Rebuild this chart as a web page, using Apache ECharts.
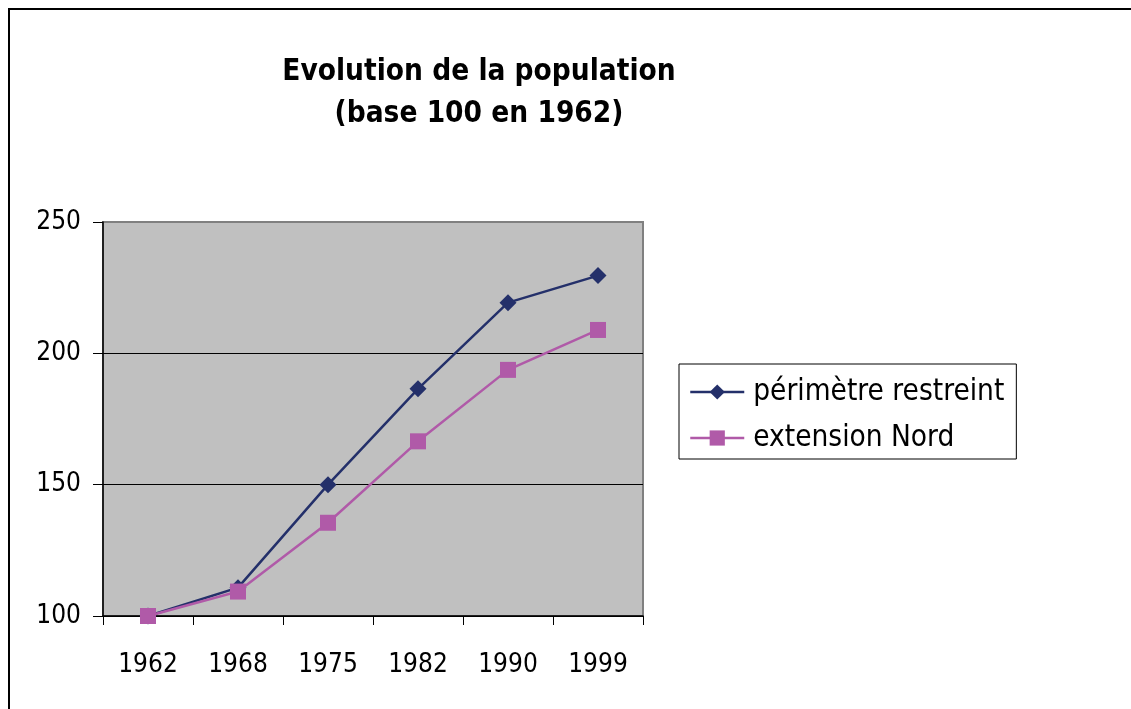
<!DOCTYPE html>
<html>
<head>
<meta charset="utf-8">
<script src="https://cdn.jsdelivr.net/npm/echarts@6/dist/echarts.min.js"></script>
<style>
  html, body { margin: 0; padding: 0; background: #fff; }
  #chart { width: 1131px; height: 709px; }
</style>
</head>
<body>
<div id="chart"></div>
<script>
const years = ['1962', '1968', '1975', '1982', '1990', '1999']
const perimetreRestreint = [100, 110.8, 150, 186.5, 219.3, 229.6]
const extensionNord = [100, 109.3, 135.5, 166.5, 193.7, 208.9]
const yTicks = { min: 100, max: 250, interval: 50 }

const font = '"DejaVu Sans Condensed", "Liberation Sans", sans-serif'

const chart = echarts.init(document.getElementById('chart'))

chart.setOption({
  backgroundColor: '#fff',
  animation: false,
  textStyle: { fontFamily: font },
  title: {
    text: 'Evolution de la population\n(base 100 en 1962)',
    left: 474,
    top: 46,
    textAlign: 'center',
    textStyle: {
      fontFamily: font,
      fontSize: 29.5,
      fontWeight: 'bold',
      color: '#000',
      lineHeight: 42,
    },
  },
  legend: {
    orient: 'vertical',
    left: 679,
    top: 364,
    padding: [13, 12, 6, 10],
    itemWidth: 54,
    itemHeight: 19,
    itemGap: 16,
    borderColor: '#000',
    borderWidth: 1,
    backgroundColor: '#fff',
    lineStyle: { width: 2.5 },
    textStyle: { fontFamily: font, fontSize: 29.5, color: '#000', padding: [0, 0, 0, 4] },
    data: ['périmètre restreint', 'extension Nord'],
  },
  grid: {
    left: 103,
    right: 488,
    top: 222,
    bottom: 93,
    show: true,
    backgroundColor: '#c0c0c0',
    borderColor: '#808080',
    borderWidth: 2,
  },
  xAxis: {
    type: 'category',
    data: years,
    boundaryGap: true,
    axisLine: { lineStyle: { color: '#000', width: 1.5 } },
    axisTick: { show: true, length: 9, alignWithLabel: false, lineStyle: { color: '#000' } },
    axisLabel: { color: '#000', fontSize: 26, margin: 36, interval: 0, fontFamily: font },
    splitLine: { show: false },
  },
  yAxis: {
    type: 'value',
    min: yTicks.min,
    max: yTicks.max,
    interval: yTicks.interval,
    axisLine: { show: true, lineStyle: { color: '#000', width: 1.5 } },
    axisTick: { show: true, length: 10, lineStyle: { color: '#000' } },
    axisLabel: { color: '#000', fontSize: 26, margin: 22, fontFamily: font },
    splitLine: { show: true, lineStyle: { color: ['#000', '#000', '#000', '#808080'], width: 1 } },
  },
  series: [
    {
      name: 'périmètre restreint',
      type: 'line',
      data: perimetreRestreint,
      symbol: 'diamond',
      symbolSize: 17,
      lineStyle: { color: '#24306a', width: 2.5 },
      itemStyle: { color: '#24306a' },
      z: 3,
    },
    {
      name: 'extension Nord',
      type: 'line',
      data: extensionNord,
      symbol: 'rect',
      symbolSize: 16,
      lineStyle: { color: '#b05aa8', width: 2.5 },
      itemStyle: { color: '#b05aa8' },
      z: 4,
    },
  ],
  graphic: [
    {
      type: 'rect',
      shape: { x: 9, y: 9, width: 1200, height: 800 },
      style: { fill: 'none', stroke: '#000', lineWidth: 2 },
      silent: true,
    },
  ],
})
</script>
</body>
</html>
